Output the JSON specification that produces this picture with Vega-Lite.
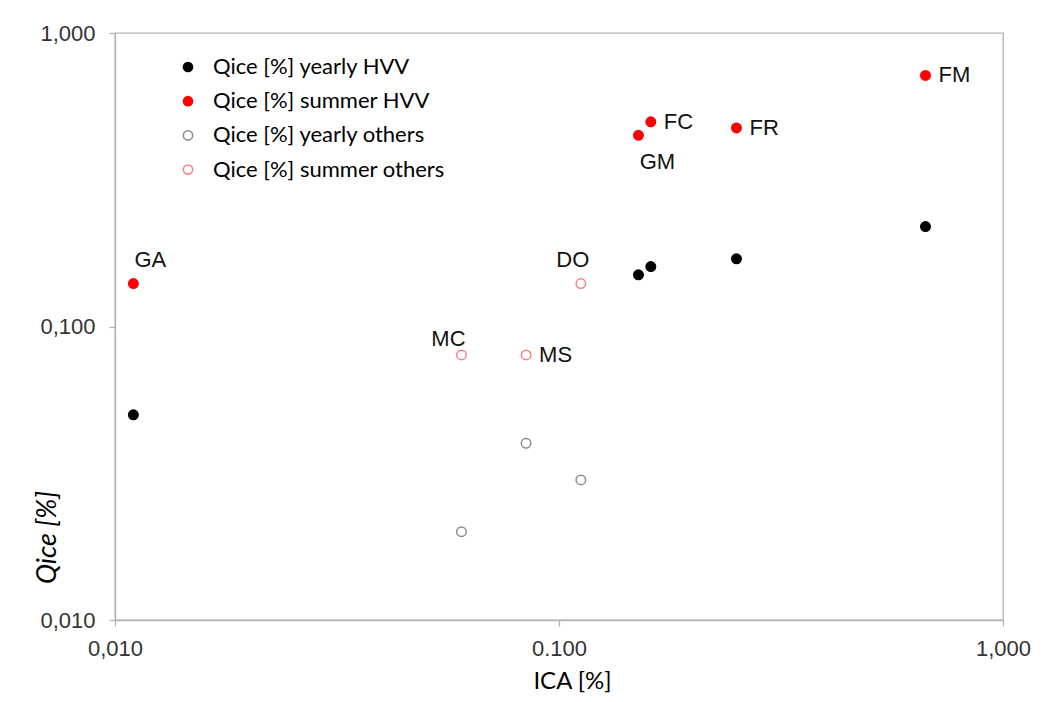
{
  "$schema": "https://vega.github.io/schema/vega-lite/v6.json",
  "width": 888,
  "height": 587,
  "autosize": {"type": "none"},
  "padding": {"left": 115, "top": 33, "right": 58, "bottom": 82},
  "background": "white",
  "config": {
    "view": {"stroke": "#b3b3b3", "strokeWidth": 1.3},
    "font": "Liberation Sans",
    "legend": {
      "orient": "none",
      "legendX": 62,
      "legendY": 23,
      "padding": 0,
      "labelFont": "Lato",
      "labelFontSize": 22,
      "labelColor": "#000000",
      "symbolSize": 85,
      "symbolStrokeWidth": 1.5,
      "symbolType": "circle",
      "rowPadding": 12.2,
      "labelOffset": 14,
      "labelLimit": 400
    }
  },
  "data": {
    "values": [
      {"site": "GA", "ica": 0.011, "q": 0.05, "series": "Qice [%] yearly HVV"},
      {"site": "GA", "ica": 0.011, "q": 0.14, "series": "Qice [%] summer HVV"},
      {"site": "GM", "ica": 0.151, "q": 0.15, "series": "Qice [%] yearly HVV"},
      {"site": "GM", "ica": 0.151, "q": 0.448, "series": "Qice [%] summer HVV"},
      {"site": "FC", "ica": 0.161, "q": 0.16, "series": "Qice [%] yearly HVV"},
      {"site": "FC", "ica": 0.161, "q": 0.498, "series": "Qice [%] summer HVV"},
      {"site": "FR", "ica": 0.251, "q": 0.17, "series": "Qice [%] yearly HVV"},
      {"site": "FR", "ica": 0.251, "q": 0.475, "series": "Qice [%] summer HVV"},
      {"site": "FM", "ica": 0.669, "q": 0.219, "series": "Qice [%] yearly HVV"},
      {"site": "FM", "ica": 0.669, "q": 0.717, "series": "Qice [%] summer HVV"},
      {"site": "MC", "ica": 0.0603, "q": 0.02, "series": "Qice [%] yearly others"},
      {"site": "MC", "ica": 0.0603, "q": 0.08, "series": "Qice [%] summer others"},
      {"site": "MS", "ica": 0.0843, "q": 0.04, "series": "Qice [%] yearly others"},
      {"site": "MS", "ica": 0.0843, "q": 0.08, "series": "Qice [%] summer others"},
      {"site": "DO", "ica": 0.112, "q": 0.03, "series": "Qice [%] yearly others"},
      {"site": "DO", "ica": 0.112, "q": 0.14, "series": "Qice [%] summer others"}
    ]
  },
  "layer": [
    {
      "mark": {"type": "point", "shape": "circle", "size": 90, "strokeWidth": 1.5, "opacity": 1},
      "encoding": {
        "x": {
          "field": "ica", "type": "quantitative",
          "scale": {"type": "log", "domain": [0.01, 1], "nice": false},
          "axis": {
            "values": [0.01, 0.1, 1],
            "labelExpr": "datum.value < 0.05 ? '0,010' : (datum.value < 0.5 ? '0.100' : '1,000')",
            "title": "ICA [%]",
            "titleFont": "Lato", "titleFontSize": 24, "titleFontWeight": "normal", "titleColor": "#000000",
            "titleX": 457, "titleY": 68, "titleBaseline": "alphabetic", "titleAlign": "center",
            "labelFont": "Liberation Sans", "labelFontSize": 22, "labelColor": "#333333",
            "labelBaseline": "alphabetic", "labelPadding": 29, "labelFlush": false, "labelOverlap": false,
            "tickSize": 6, "tickColor": "#b3b3b3", "domainColor": "#b3b3b3", "domainWidth": 1.3, "tickWidth": 1.3,
            "grid": false
          }
        },
        "y": {
          "field": "q", "type": "quantitative",
          "scale": {"type": "log", "domain": [0.01, 1], "nice": false},
          "axis": {
            "values": [0.01, 0.1, 1],
            "labelExpr": "datum.value < 0.05 ? '0,010' : (datum.value < 0.5 ? '0,100' : '1,000')",
            "title": "Qice [%]",
            "titleFont": "Lato", "titleFontSize": 27, "titleFontWeight": "normal", "titleFontStyle": "italic", "titleColor": "#000000",
            "titleX": -68, "titleY": 504, "titleAngle": -90, "titleAlign": "center", "titleBaseline": "middle",
            "labelFont": "Liberation Sans", "labelFontSize": 22, "labelColor": "#333333",
            "labelPadding": 14, "labelFlush": false, "labelOverlap": false,
            "tickSize": 6, "tickColor": "#b3b3b3", "domainColor": "#b3b3b3", "domainWidth": 1.3, "tickWidth": 1.3,
            "grid": false
          }
        },
        "fill": {
          "field": "series", "type": "nominal", "title": null,
          "scale": {
            "domain": ["Qice [%] yearly HVV", "Qice [%] summer HVV", "Qice [%] yearly others", "Qice [%] summer others"],
            "range": ["#000000", "#ff0000", "#ffffff", "#ffffff"]
          }
        },
        "stroke": {
          "field": "series", "type": "nominal", "title": null,
          "scale": {
            "domain": ["Qice [%] yearly HVV", "Qice [%] summer HVV", "Qice [%] yearly others", "Qice [%] summer others"],
            "range": ["#000000", "#ff0000", "#8c8c8c", "#ff8080"]
          }
        }
      }
    },
    {
      "transform": [{"filter": "indexof(datum.series, 'summer') >= 0 && indexof(['MS','FC','FR','FM'], datum.site) >= 0"}],
      "mark": {"type": "text", "align": "left", "baseline": "middle", "dx": 13, "dy": 0, "fontSize": 22, "font": "Liberation Sans", "color": "#111111"},
      "encoding": {"x": {"field": "ica", "type": "quantitative"}, "y": {"field": "q", "type": "quantitative"}, "text": {"field": "site"}}
    },
    {
      "transform": [{"filter": "indexof(datum.series, 'summer') >= 0 && datum.site == 'GA'"}],
      "mark": {"type": "text", "align": "center", "baseline": "alphabetic", "dx": 17, "dy": -17, "fontSize": 22, "font": "Liberation Sans", "color": "#111111"},
      "encoding": {"x": {"field": "ica", "type": "quantitative"}, "y": {"field": "q", "type": "quantitative"}, "text": {"field": "site"}}
    },
    {
      "transform": [{"filter": "indexof(datum.series, 'summer') >= 0 && datum.site == 'DO'"}],
      "mark": {"type": "text", "align": "center", "baseline": "alphabetic", "dx": -8, "dy": -17, "fontSize": 22, "font": "Liberation Sans", "color": "#111111"},
      "encoding": {"x": {"field": "ica", "type": "quantitative"}, "y": {"field": "q", "type": "quantitative"}, "text": {"field": "site"}}
    },
    {
      "transform": [{"filter": "indexof(datum.series, 'summer') >= 0 && datum.site == 'MC'"}],
      "mark": {"type": "text", "align": "center", "baseline": "alphabetic", "dx": -13, "dy": -9, "fontSize": 22, "font": "Liberation Sans", "color": "#111111"},
      "encoding": {"x": {"field": "ica", "type": "quantitative"}, "y": {"field": "q", "type": "quantitative"}, "text": {"field": "site"}}
    },
    {
      "transform": [{"filter": "indexof(datum.series, 'summer') >= 0 && datum.site == 'GM'"}],
      "mark": {"type": "text", "align": "center", "baseline": "alphabetic", "dx": 19, "dy": 34, "fontSize": 22, "font": "Liberation Sans", "color": "#111111"},
      "encoding": {"x": {"field": "ica", "type": "quantitative"}, "y": {"field": "q", "type": "quantitative"}, "text": {"field": "site"}}
    }
  ]
}
